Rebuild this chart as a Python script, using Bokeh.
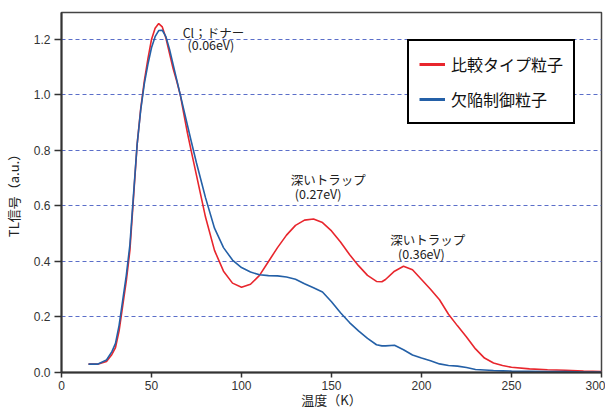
from bokeh.plotting import figure
from bokeh.models import Range1d, FixedTicker, PrintfTickFormatter, Legend, LegendItem, Label
from bokeh.embed import file_html
from bokeh.resources import INLINE

# ---- data ----
temperature = [15, 20, 25, 28, 30, 32, 34, 36, 38, 40, 42, 44, 46, 48, 50, 52, 54, 56, 58,
               60, 62, 64, 66, 68, 70, 72, 75, 78, 80, 85, 90, 95, 100, 105, 110, 115, 120,
               125, 130, 135, 140, 145, 150, 155, 160, 165, 170, 175, 178, 180, 185, 190,
               195, 200, 205, 210, 215, 220, 225, 230, 235, 240, 245, 250, 260, 270, 280,
               290, 300]
comparison = [0.030, 0.030, 0.040, 0.065, 0.090, 0.150, 0.240, 0.330, 0.440, 0.630, 0.820,
              0.950, 1.050, 1.130, 1.200, 1.240, 1.257, 1.245, 1.205, 1.150, 1.095, 1.050,
              1.000, 0.930, 0.862, 0.800, 0.710, 0.620, 0.560, 0.440, 0.365, 0.322, 0.307,
              0.318, 0.350, 0.400, 0.450, 0.495, 0.530, 0.549, 0.553, 0.540, 0.510, 0.470,
              0.425, 0.385, 0.350, 0.328, 0.327, 0.335, 0.365, 0.383, 0.370, 0.335, 0.300,
              0.262, 0.210, 0.168, 0.128, 0.085, 0.052, 0.034, 0.025, 0.019, 0.013, 0.010,
              0.008, 0.005, 0.003]
controlled = [0.030, 0.030, 0.045, 0.075, 0.105, 0.170, 0.260, 0.350, 0.460, 0.640, 0.820,
              0.945, 1.040, 1.110, 1.170, 1.210, 1.232, 1.233, 1.210, 1.165, 1.110, 1.055,
              1.000, 0.945, 0.890, 0.835, 0.755, 0.680, 0.630, 0.520, 0.450, 0.405, 0.378,
              0.362, 0.352, 0.349, 0.348, 0.344, 0.336, 0.320, 0.305, 0.290, 0.255, 0.215,
              0.180, 0.150, 0.123, 0.100, 0.096, 0.096, 0.098, 0.082, 0.063, 0.052, 0.042,
              0.031, 0.025, 0.023, 0.018, 0.011, 0.009, 0.007, 0.006, 0.005, 0.004, 0.003,
              0.003, 0.002, 0.002]
series_names = ["比較タイプ粒子", "欠陥制御粒子"]
x_ticks = [0, 50, 100, 150, 200, 250, 300]
y_ticks = [0.0, 0.2, 0.4, 0.6, 0.8, 1.0, 1.2]
annotation_texts = ["Cl；ドナー", "(0.06eV)", "深いトラップ", "(0.27eV)", "深いトラップ", "(0.36eV)"]
annotation_x = [67.3, 70.0, 127.4, 129.6, 182.6, 187.0]
annotation_y = [1.225, 1.182, 0.695, 0.645, 0.479, 0.429]

FONT = "Noto Sans CJK JP"
TICK_FONT = "Liberation Sans"
RED = "#e8262d"
BLUE = "#2460a7"

p = figure(frame_width=540, frame_height=360, output_backend="svg", toolbar_location=None,
           x_range=Range1d(0, 300), y_range=Range1d(0, 1.297),
           min_border_left=53, min_border_right=4, min_border_top=12, min_border_bottom=33)

p.background_fill_color = "white"
p.border_fill_color = "white"
p.outline_line_color = "#444444"
p.outline_line_width = 1.5

p.xgrid.visible = False
p.ygrid.ticker = FixedTicker(ticks=y_ticks)
p.ygrid.grid_line_color = "#5b6ec9"
p.ygrid.grid_line_dash = "4 3"
p.ygrid.grid_line_width = 1

for ax in (p.xaxis[0], p.yaxis[0]):
    ax.axis_line_color = "#333333"
    ax.axis_line_width = 2
    ax.major_tick_line_color = "#333333"
    ax.major_tick_line_width = 1.5
    ax.major_tick_in = 0
    ax.minor_tick_line_color = None
    ax.major_label_text_font = TICK_FONT
    ax.major_label_text_color = "#333333"
    ax.axis_label_text_font = FONT
    ax.axis_label_text_font_style = "normal"
    ax.axis_label_text_color = "#222222"

p.xaxis.ticker = FixedTicker(ticks=x_ticks)
p.yaxis.ticker = FixedTicker(ticks=y_ticks)
p.yaxis.formatter = PrintfTickFormatter(format="%.1f")
p.xaxis.major_tick_out = 5
p.yaxis.major_tick_out = 7
p.xaxis.major_label_standoff = 3
p.yaxis.major_label_standoff = 4
p.xaxis.major_label_text_font_size = "12px"
p.yaxis.major_label_text_font_size = "12px"
p.xaxis.axis_label = "温度（K）"
p.yaxis.axis_label = "TL信号（a.u.）"
p.xaxis.axis_label_text_font_size = "13px"
p.yaxis.axis_label_text_font_size = "13px"
p.xaxis.axis_label_standoff = -3
p.yaxis.axis_label_standoff = 8

r_red = p.line(temperature, comparison, line_color=RED, line_width=1.6)
r_blue = p.line(temperature, controlled, line_color=BLUE, line_width=1.6)

# thicker swatches for the legend (no visible data)
nan = float("nan")
leg_red = p.line([nan], [nan], line_color=RED, line_width=3)
leg_blue = p.line([nan], [nan], line_color=BLUE, line_width=3)

legend = Legend(items=[LegendItem(label=series_names[0], renderers=[leg_red]),
                       LegendItem(label=series_names[1], renderers=[leg_blue])],
                location=(346, 248))
legend.label_text_font = FONT
legend.label_text_font_size = "16px"
legend.label_text_color = "#111111"
legend.border_line_color = "black"
legend.border_line_alpha = 1
legend.border_line_width = 2
legend.background_fill_color = "white"
legend.background_fill_alpha = 1
legend.padding = 10
legend.spacing = 9
legend.label_height = 26
legend.glyph_height = 26
legend.glyph_width = 26
legend.label_standoff = 6
legend.margin = 0
p.add_layout(legend)

for t, x, y in zip(annotation_texts, annotation_x, annotation_y):
    p.add_layout(Label(x=x, y=y, text=t, text_font=FONT, text_font_size="12.5px",
                       text_color="#222222", text_align="left", text_baseline="middle"))

open("out.html", "w").write(file_html(p, INLINE))
